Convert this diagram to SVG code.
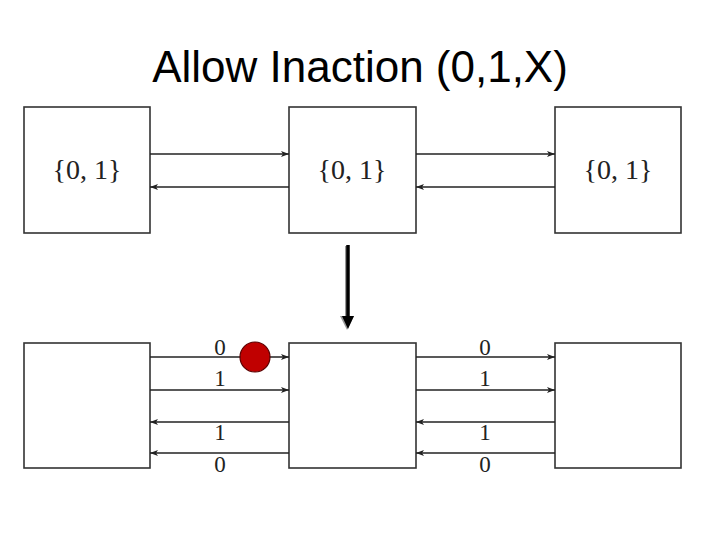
<svg xmlns="http://www.w3.org/2000/svg" width="720" height="540" viewBox="0 0 720 540">
<style>
.box{fill:#fff;stroke:#333;stroke-width:1.6}
.ln{stroke:#222;stroke-width:1.4;fill:none;marker-end:url(#ah)}
.set{font-family:"Liberation Serif","DejaVu Serif",serif;font-size:28px;fill:#222;text-anchor:middle}
.lbl{font-family:"Liberation Serif","DejaVu Serif",serif;font-size:23px;fill:#222;text-anchor:middle}
.title{font-family:"Liberation Sans",Arial,sans-serif;font-size:44px;fill:#000;text-anchor:middle}
</style>
<defs>
<marker id="ah" markerWidth="10" markerHeight="8" refX="8" refY="4" orient="auto" markerUnits="userSpaceOnUse">
<path d="M0,1 L8,4 L0,7 L2,4 Z" fill="#222"/>
</marker>
</defs>
<rect width="720" height="540" fill="#fff"/>
<text class="title" x="360" y="82">Allow Inaction (0,1,X)</text>

<g id="top1"><rect class="box" x="24" y="107" width="126" height="126"/><text class="set" x="87" y="179">{0, 1}</text></g>
<g id="top2"><rect class="box" x="289" y="107" width="127" height="126"/><text class="set" x="352" y="179">{0, 1}</text></g>
<g id="top3"><rect class="box" x="555" y="107" width="126" height="126"/><text class="set" x="618" y="179">{0, 1}</text></g>

<g id="bot1"><rect class="box" x="24" y="343" width="126" height="125"/></g>
<g id="bot2"><rect class="box" x="289" y="343" width="127" height="125"/></g>
<g id="bot3"><rect class="box" x="555" y="343" width="126" height="125"/></g>

<g id="connectors">
<line class="ln" x1="150" y1="154" x2="289" y2="154"/>
<line class="ln" x1="289" y1="187" x2="150" y2="187"/>
<line class="ln" x1="416" y1="154" x2="555" y2="154"/>
<line class="ln" x1="555" y1="187" x2="416" y2="187"/>

<line class="ln" x1="150" y1="357" x2="289" y2="357"/>
<line class="ln" x1="150" y1="390" x2="289" y2="390"/>
<line class="ln" x1="289" y1="422" x2="150" y2="422"/>
<line class="ln" x1="289" y1="453" x2="150" y2="453"/>
<line class="ln" x1="416" y1="357" x2="555" y2="357"/>
<line class="ln" x1="416" y1="390" x2="555" y2="390"/>
<line class="ln" x1="555" y1="422" x2="416" y2="422"/>
<line class="ln" x1="555" y1="453" x2="416" y2="453"/>
</g>

<g id="labels">
<text class="lbl" x="220" y="355">0</text>
<text class="lbl" x="220" y="386">1</text>
<text class="lbl" x="220" y="440">1</text>
<text class="lbl" x="220" y="472">0</text>
<text class="lbl" x="485" y="355">0</text>
<text class="lbl" x="485" y="386">1</text>
<text class="lbl" x="485" y="440">1</text>
<text class="lbl" x="485" y="472">0</text>
</g>

<g id="drop"><circle cx="255" cy="357" r="15" fill="#c00000" stroke="#5a0000" stroke-width="1.2"/></g>

<g id="bigarrow">
<line x1="347" y1="246" x2="347" y2="318" stroke="#999" stroke-width="4"/>
<path d="M340,316 L354,316 L347,330 Z" fill="#999"/>
<line x1="348" y1="245" x2="348" y2="318" stroke="#000" stroke-width="3.5"/>
<path d="M342,316 L354,316 L348,329 Z" fill="#000"/>
</g>
</svg>
